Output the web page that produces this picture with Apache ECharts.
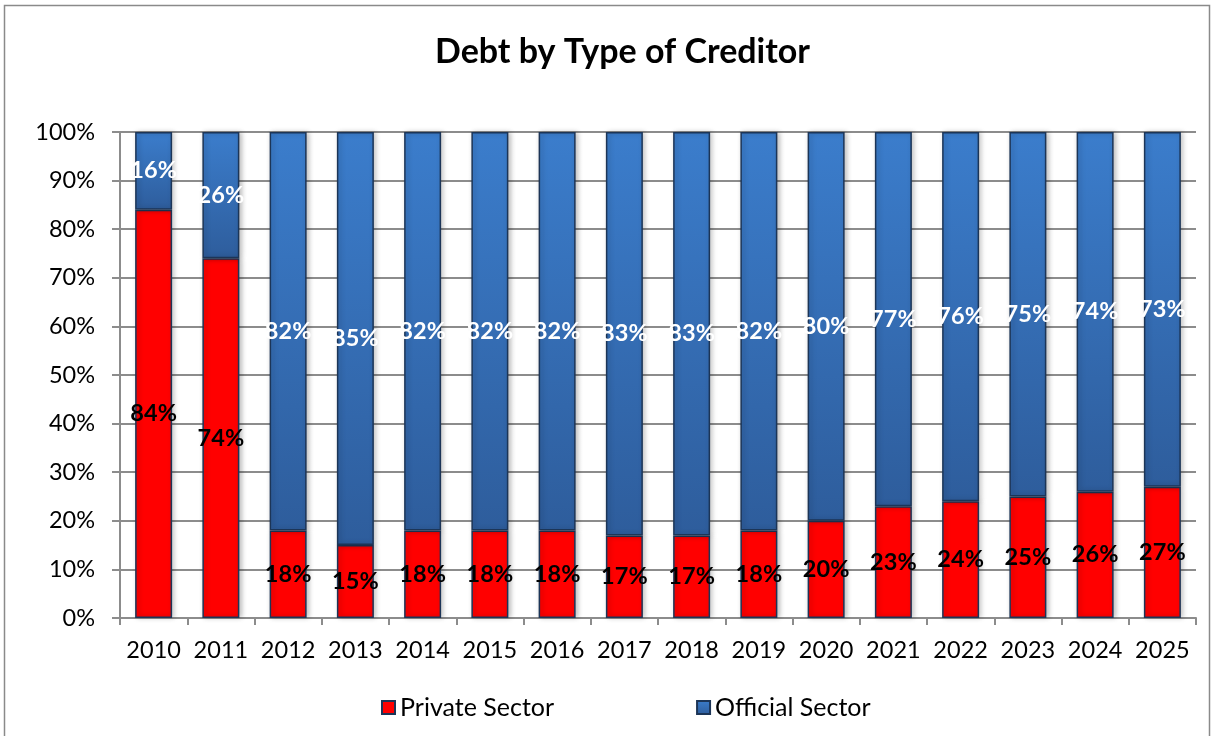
<!DOCTYPE html>
<html>
<head>
<meta charset="utf-8">
<title>Debt by Type of Creditor</title>
<script src="https://cdn.jsdelivr.net/npm/echarts@6/dist/echarts.min.js"></script>
<style>
  html, body { margin: 0; padding: 0; background: #fff; }
  #chart { width: 1215px; height: 736px; }
</style>
</head>
<body>
<div id="chart"></div>
<script>
// Share of debt held by each creditor type, per year (percent)
const years = ['2010','2011','2012','2013','2014','2015','2016','2017','2018','2019','2020','2021','2022','2023','2024','2025'];
const privateSector = [84, 74, 18, 15, 18, 18, 18, 17, 17, 18, 20, 23, 24, 25, 26, 27];
const officialSector = [16, 26, 82, 85, 82, 82, 82, 83, 83, 82, 80, 77, 76, 75, 74, 73];
const seriesNames = ['Private Sector', 'Official Sector'];

const FONT = 'Lato, "Open Sans", sans-serif';
const chart = echarts.init(document.getElementById('chart'));

const barCommon = {
  type: 'bar',
  stack: 'debt',
  barWidth: '55%',
  label: {
    show: true,
    position: 'inside',
    formatter: p => p.value + '%',
    fontFamily: FONT,
    fontWeight: 'bold',
    fontSize: 23.5
  }
};

chart.setOption({
  animation: false,
  backgroundColor: '#fff',
  title: {
    text: 'Debt by Type of Creditor',
    left: 430,
    top: 30,
    textStyle: { fontFamily: FONT, fontWeight: 'bold', fontSize: 34, color: '#000' }
  },
  legend: {
    bottom: 11,
    left: 376,
    itemGap: 142,
    itemWidth: 13,
    itemHeight: 13,
    icon: 'rect',
    textStyle: { fontFamily: FONT, fontSize: 25, color: '#000' },
    data: seriesNames
  },
  grid: { left: 120, right: 19, top: 132, bottom: 118 },
  xAxis: {
    type: 'category',
    data: years,
    axisLine: { lineStyle: { color: '#8c8c8c', width: 2 } },
    axisTick: { show: true, interval: 0, length: 7, alignWithLabel: false, lineStyle: { color: '#8c8c8c', width: 2 } },
    axisLabel: { interval: 0, fontFamily: FONT, fontSize: 23.5, color: '#000', margin: 20 }
  },
  yAxis: {
    type: 'value',
    min: 0,
    max: 100,
    interval: 10,
    axisLine: { show: true, lineStyle: { color: '#8c8c8c', width: 2 } },
    axisTick: { show: true, length: 8, lineStyle: { color: '#8c8c8c', width: 2 } },
    splitLine: { lineStyle: { color: '#8c8c8c', width: 2 } },
    axisLabel: { fontFamily: FONT, fontSize: 23.5, color: '#000', formatter: '{value}%', margin: 25 }
  },
  series: [
    Object.assign({}, barCommon, {
      name: seriesNames[0],
      data: privateSector,
      itemStyle: {
        color: '#ff0000',
        borderColor: '#1c3557',
        borderWidth: 1.5,
        shadowBlur: 5,
        shadowOffsetX: 2,
        shadowColor: 'rgba(0,0,0,0.25)'
      },
      label: Object.assign({}, barCommon.label, { color: '#000' })
    }),
    Object.assign({}, barCommon, {
      name: seriesNames[1],
      data: officialSector,
      itemStyle: {
        color: new echarts.graphic.LinearGradient(0, 0, 0, 1, [
          { offset: 0, color: '#3b7dcc' },
          { offset: 1, color: '#2e5d9c' }
        ]),
        borderColor: '#1c3557',
        borderWidth: 1.5,
        shadowBlur: 5,
        shadowOffsetX: 2,
        shadowColor: 'rgba(0,0,0,0.25)'
      },
      label: Object.assign({}, barCommon.label, { color: '#fff' })
    })
  ],
  graphic: [{
    type: 'rect',
    shape: { x: 4.5, y: 5.5, width: 1205, height: 740 },
    style: { fill: null, stroke: '#8a8a8a', lineWidth: 1.5 },
    silent: true,
    z: -1
  }]
});
</script>
</body>
</html>
